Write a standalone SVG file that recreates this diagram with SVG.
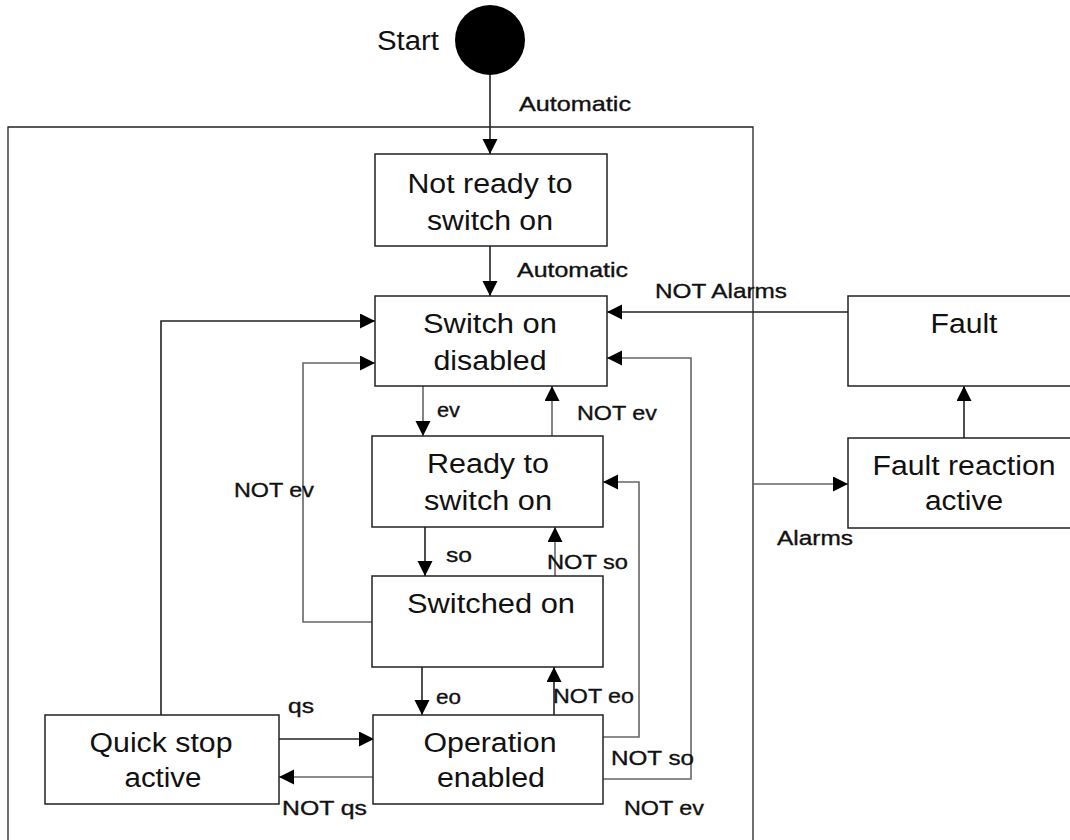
<svg xmlns="http://www.w3.org/2000/svg" width="1070" height="840" viewBox="0 0 1070 840">
<style>
.box{fill:#fff;stroke:#222;stroke-width:1.5}
.nt{font-family:"Liberation Sans",Arial,sans-serif;font-size:27px;fill:#111;text-anchor:middle}
.lb{font-family:"Liberation Sans",Arial,sans-serif;font-size:21px;fill:#111;stroke:#111;stroke-width:0.35}
.c{fill:none;stroke:#222;stroke-width:1.6}
.g{fill:none;stroke:#666;stroke-width:1.6}
.fr{fill:none;stroke:#222;stroke-width:1.3}
</style>
<defs>
<marker id="ah" markerUnits="userSpaceOnUse" markerWidth="16" markerHeight="16" refX="15" refY="7.5" orient="auto">
<path d="M0,0 L15,7.5 L0,15 z" fill="#000"/>
</marker>
</defs>
<rect width="1070" height="840" fill="#fff"/>
<path class="fr" d="M8,840 V127 H753 V840"/>
<g id="connectors">
<path class="c" d="M490,75 V154" marker-end="url(#ah)"/>
<path class="c" d="M490,246 V296" marker-end="url(#ah)"/>
<path class="c" d="M848,312 H607" marker-end="url(#ah)"/>
<path class="g" d="M603,779 H691 V358 H607" marker-end="url(#ah)"/>
<path class="g" d="M423,386 V436" marker-end="url(#ah)"/>
<path class="g" d="M552,436 V386" marker-end="url(#ah)"/>
<path class="g" d="M603,737 H639 V482 H603" marker-end="url(#ah)"/>
<path class="c" d="M425,527 V576" marker-end="url(#ah)"/>
<path class="g" d="M555,576 V527" marker-end="url(#ah)"/>
<path class="g" d="M372,622 H303 V363 H375" marker-end="url(#ah)"/>
<path class="c" d="M161,715 V321 H375" marker-end="url(#ah)"/>
<path class="c" d="M422,667 V715" marker-end="url(#ah)"/>
<path class="c" d="M554,715 V667" marker-end="url(#ah)"/>
<path class="c" d="M279,739 H374" marker-end="url(#ah)"/>
<path class="g" d="M374,777 H279" marker-end="url(#ah)"/>
<path class="g" d="M753,484 H848" marker-end="url(#ah)"/>
<path class="c" d="M964,438 V386" marker-end="url(#ah)"/>
<text class="lb" x="519" y="111" textLength="112" lengthAdjust="spacingAndGlyphs">Automatic</text>
<text class="lb" x="517" y="277" textLength="111" lengthAdjust="spacingAndGlyphs">Automatic</text>
<text class="lb" x="655" y="298" textLength="132" lengthAdjust="spacingAndGlyphs">NOT Alarms</text>
<text class="lb" x="437" y="417" textLength="23" lengthAdjust="spacingAndGlyphs">ev</text>
<text class="lb" x="577" y="420" textLength="80" lengthAdjust="spacingAndGlyphs">NOT ev</text>
<text class="lb" x="234" y="497" textLength="80" lengthAdjust="spacingAndGlyphs">NOT ev</text>
<text class="lb" x="446" y="562" textLength="26" lengthAdjust="spacingAndGlyphs">so</text>
<text class="lb" x="547" y="569" textLength="81" lengthAdjust="spacingAndGlyphs">NOT so</text>
<text class="lb" x="436" y="704" textLength="25" lengthAdjust="spacingAndGlyphs">eo</text>
<text class="lb" x="553" y="703" textLength="81" lengthAdjust="spacingAndGlyphs">NOT eo</text>
<text class="lb" x="288" y="713" textLength="26" lengthAdjust="spacingAndGlyphs">qs</text>
<text class="lb" x="282" y="815" textLength="85" lengthAdjust="spacingAndGlyphs">NOT qs</text>
<text class="lb" x="611" y="765" textLength="83" lengthAdjust="spacingAndGlyphs">NOT so</text>
<text class="lb" x="624" y="815" textLength="80" lengthAdjust="spacingAndGlyphs">NOT ev</text>
<text class="lb" x="777" y="545" textLength="76" lengthAdjust="spacingAndGlyphs">Alarms</text>
</g>
<g id="start">
<circle cx="490" cy="40" r="35" fill="#000"/>
<text class="nt" x="408" y="50" textLength="62" lengthAdjust="spacingAndGlyphs">Start</text>
</g>
<g id="not-ready">
<rect class="box" x="375" y="154" width="232" height="92"/>
<text class="nt" x="490" y="193" textLength="165" lengthAdjust="spacingAndGlyphs">Not ready to</text>
<text class="nt" x="490" y="230" textLength="126" lengthAdjust="spacingAndGlyphs">switch on</text>
</g>
<g id="switch-on-disabled">
<rect class="box" x="375" y="296" width="232" height="90"/>
<text class="nt" x="490" y="333" textLength="134" lengthAdjust="spacingAndGlyphs">Switch on</text>
<text class="nt" x="490" y="370" textLength="113" lengthAdjust="spacingAndGlyphs">disabled</text>
</g>
<g id="ready">
<rect class="box" x="372" y="436" width="231" height="91"/>
<text class="nt" x="488" y="473" textLength="122" lengthAdjust="spacingAndGlyphs">Ready to</text>
<text class="nt" x="488" y="510" textLength="128" lengthAdjust="spacingAndGlyphs">switch on</text>
</g>
<g id="switched-on">
<rect class="box" x="372" y="576" width="231" height="91"/>
<text class="nt" x="491" y="613" textLength="168" lengthAdjust="spacingAndGlyphs">Switched on</text>
</g>
<g id="operation-enabled">
<rect class="box" x="373" y="715" width="230" height="89"/>
<text class="nt" x="490" y="752" textLength="133" lengthAdjust="spacingAndGlyphs">Operation</text>
<text class="nt" x="491" y="787" textLength="108" lengthAdjust="spacingAndGlyphs">enabled</text>
</g>
<g id="quick-stop">
<rect class="box" x="45" y="715" width="234" height="89"/>
<text class="nt" x="161" y="752" textLength="143" lengthAdjust="spacingAndGlyphs">Quick stop</text>
<text class="nt" x="163" y="787" textLength="77" lengthAdjust="spacingAndGlyphs">active</text>
</g>
<g id="fault">
<rect class="box" x="848" y="296" width="240" height="90"/>
<text class="nt" x="964" y="333" textLength="67" lengthAdjust="spacingAndGlyphs">Fault</text>
</g>
<g id="fault-reaction">
<rect class="box" x="848" y="438" width="240" height="90"/>
<text class="nt" x="964" y="475" textLength="183" lengthAdjust="spacingAndGlyphs">Fault reaction</text>
<text class="nt" x="964" y="510" textLength="78" lengthAdjust="spacingAndGlyphs">active</text>
</g>
</svg>
